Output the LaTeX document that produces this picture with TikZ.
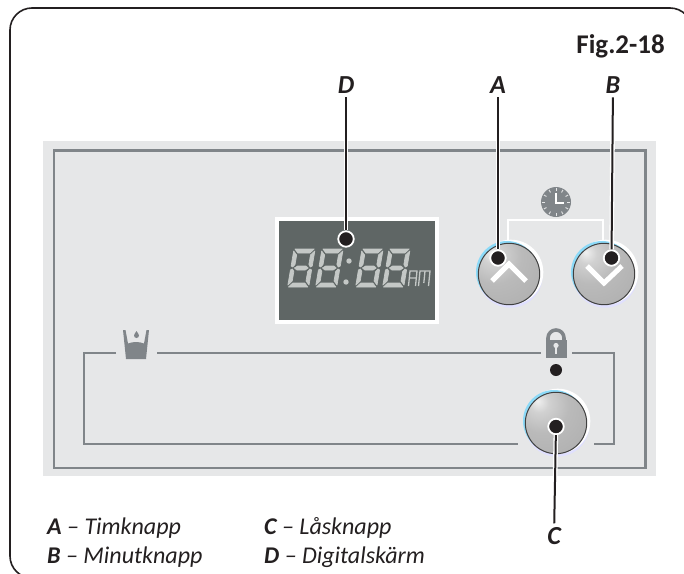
\documentclass[tikz,border=0pt]{standalone}
\usepackage{fontspec}
\setmainfont{Carlito}
\usetikzlibrary{calc}
\definecolor{panel}{HTML}{E6E7E8}
\definecolor{ln}{HTML}{808589}
\definecolor{lcd}{HTML}{5F6665}
\definecolor{seg}{HTML}{C4C8C6}
\definecolor{ink}{HTML}{231F20}
\pgfdeclareradialshading{knobshade}{\pgfpoint{-15bp}{18bp}}{%
 color(0bp)=(black!6); color(8bp)=(black!18); color(22bp)=(black!27); color(48bp)=(black!32); color(62bp)=(black!46); color(72bp)=(black!66); color(100bp)=(black!66)}
\tikzset{
 x=1pt,y=-1pt,
 pline/.style={draw=ln,line width=2.7pt},
 leader/.style={draw=white,line width=4.6pt},
 leadin/.style={draw=ink,line width=2pt},
 lbl/.style={font=\fontsize{26}{26}\selectfont\bfseries\itshape,text=ink,inner sep=0pt,outer sep=4pt,anchor=center},
 legend/.style={font=\fontsize{24}{24}\selectfont\itshape,text=ink,inner sep=0pt,anchor=west},
 dotn/.style={circle,fill=ink,draw=white,line width=1.8pt,minimum size=15.5pt,inner sep=0pt},
 segf/.style={fill=seg,draw=seg,line width=.7pt,line join=round},
}
\newcommand{\knob}[2]{%
 \fill[blue!12!white] (#1+1.2,#2+1.2) circle (32.5);
 \fill[white] (#1+1.8,#2-1.8) circle (32.5);
 \fill[cyan!45!white] (#1-2,#2-2) circle (31);
 \shade[shading=knobshade,draw=none] (#1,#2) circle (30.7);
 \draw[black!75,line width=1pt] (#1,#2) circle (30.7);
}
\newcommand{\segdigit}[2]{%
 \begin{scope}[shift={(#1,#2)},xslant=0.17,xscale=.92]
  \path[segf] (1,0) -- (22,0) -- (18,4) -- (5,4) -- cycle;
  \path[segf] (1,38) -- (22,38) -- (18,34) -- (5,34) -- cycle;
  \path[segf] (4,19) -- (7,17) -- (16,17) -- (19,19) -- (16,21) -- (7,21) -- cycle;
  \path[segf] (0,2) -- (4,6) -- (4,15.5) -- (2,18) -- (0,17) -- cycle;
  \path[segf] (23,2) -- (19,6) -- (19,15.5) -- (21,18) -- (23,17) -- cycle;
  \path[segf] (0,36) -- (4,32) -- (4,22.5) -- (2,20) -- (0,21) -- cycle;
  \path[segf] (23,36) -- (19,32) -- (19,22.5) -- (21,20) -- (23,21) -- cycle;
 \end{scope}}
\begin{document}
\begin{tikzpicture}
\useasboundingbox (0,0) rectangle (684,573);
\clip (0,0) rectangle (684,573);
% outer frame
\draw[ink,line width=1.6pt,rounded corners=22pt] (100,578) -- (10,578) -- (10,8) -- (692,8) -- (692,60);
% panel
\fill[panel] (43,141) rectangle (656,476);
\draw[pline] (54,150.5) rectangle (645.5,468);
% inner channel
\draw[pline] (116,353) -- (84,353) -- (84,444) -- (518,444);
\draw[pline] (157,353) -- (541,353);
\draw[pline] (572,353) -- (614,353) -- (614,444) -- (594,444);
% glass
\fill[ln] (123,330) -- (125.5,330) -- (128,343.5) .. controls (133,341.5) and (139,341.5) .. (144,343.5) -- (146.5,330) -- (149,330) -- (146,359) -- (126,359) -- cycle;
\fill[ln] (136.5,331) .. controls (135.5,333) and (134,334) .. (134,335.5) arc[start angle=180,end angle=0,radius=2.5] .. controls (139,334) and (137.5,333) .. (136.5,331) -- cycle;
% lock
\draw[ln,line width=3.6pt] (548,342) -- (548,338) arc[start angle=180,end angle=360,radius=8] -- (564,342);
\fill[ln] (545.5,340) rectangle (566.5,357.5);
\fill[panel] (556,345.5) circle (2.6);
\fill[panel] (554.6,346) rectangle (557.4,353.5);
\fill[ink] (556,370) circle (6);
% display
\node[draw=white,line width=4pt,fill=lcd,minimum width=160pt,minimum height=103pt,inner sep=0pt] (lcdbox) at (357,270.5) {};
\segdigit{294}{249}
\segdigit{322}{249}
\fill[seg] (349,261) circle (2.7);
\fill[seg] (346,282) circle (2.7);
\segdigit{362}{249}
\segdigit{389}{249}
\begin{scope}[shift={(410,271)},xslant=0.1]
 \draw[seg,line width=1.3pt] (0,15) -- (0,0) -- (7,0) -- (7,15) (0,7) -- (7,7);
 \draw[seg,line width=1.3pt] (10,15) -- (10,0) -- (20,0) -- (20,15) (15,0) -- (15,12);
\end{scope}
% clock
\fill[ln] (556,202) circle (15);
\foreach \a in {0,30,...,330}{\draw[panel,line width=.9pt] ($(556,202)+(\a:11)$) -- ($(556,202)+(\a:14)$);}
\draw[white,line width=1.3pt] (556,193) -- (556,203) -- (564,203);
% bracket
\draw[white,line width=2.2pt] (508,245) -- (508,220) -- (603,220) -- (603,245);
% knobs
\knob{509}{274}
\knob{604}{274}
\knob{556}{423}
\draw[white,line width=5pt] (492,281) -- (509,264) -- (526,281);
\draw[white,line width=5pt] (587,266) -- (604,283) -- (622,266);
% labels
\node[lbl] (la) at (498,85) {A};
\node[lbl] (lb) at (613,85) {B};
\node[lbl] (lc) at (554,536) {C};
\node[lbl] (ld) at (346,85) {D};
\node[font=\fontsize{27}{27}\selectfont\bfseries,text=ink,inner sep=0pt,anchor=east] (fig) at (665,46) {Fig.2-18};
% dots and leaders
\node[dotn] (da) at (498,258) {};
\node[dotn] (db) at (611.5,258) {};
\node[dotn] (dc) at (556,426.5) {};
\node[dotn] (dd) at (346,239) {};
\foreach \p/\q in {la/da,lb/db,ld/dd,lc/dc}{
 \draw[leader] (\p) -- (\q);
 \draw[leadin] (\p) -- (\q);
}
% legend
\node[legend] (l1) at (47,528) {\textbf{A} – Timknapp};
\node[legend] (l2) at (47,557) {\textbf{B} – Minutknapp};
\node[legend] (l3) at (264,528) {\textbf{C} – Låsknapp};
\node[legend] (l4) at (264,557) {\textbf{D} – Digitalskärm};
\end{tikzpicture}
\end{document}
